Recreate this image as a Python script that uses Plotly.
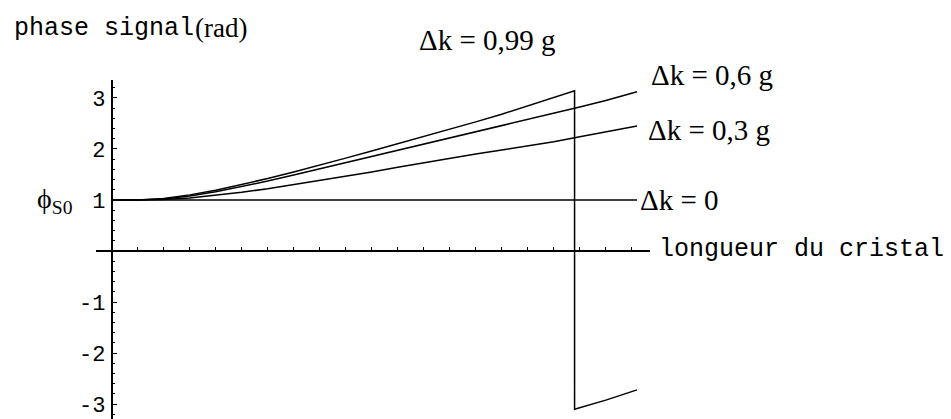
import plotly.graph_objects as go

# crystal length (arbitrary units, one x tick = 0.1)
x_grid = [0, 0.1, 0.2, 0.3, 0.4, 0.5, 0.6, 0.7, 0.8, 0.9, 1.0, 1.1, 1.2,
          1.3, 1.4, 1.5, 1.6, 1.7, 1.8, 1.9, 2.02]

phase_dk03 = [1.0, 1.0, 1.01, 1.04, 1.09, 1.15, 1.22, 1.30, 1.38, 1.46, 1.55,
              1.64, 1.73, 1.82, 1.90, 1.98, 2.06, 2.14, 2.24, 2.33, 2.45]
phase_dk06 = [1.0, 1.0, 1.02, 1.08, 1.16, 1.26, 1.37, 1.49, 1.61, 1.73, 1.85,
              1.97, 2.09, 2.21, 2.33, 2.45, 2.57, 2.69, 2.82, 2.95, 3.12]

# dk = 0.99 g wraps from +pi to -pi at x = 1.78
x_dk099 = [0, 0.1, 0.2, 0.3, 0.4, 0.5, 0.6, 0.7, 0.8, 0.9, 1.0, 1.1, 1.2,
           1.3, 1.4, 1.5, 1.6, 1.7, 1.78, 1.78, 1.9, 2.02]
phase_dk099 = [1.0, 1.0, 1.03, 1.10, 1.19, 1.30, 1.42, 1.55, 1.68, 1.82, 1.96,
               2.10, 2.24, 2.38, 2.53, 2.68, 2.84, 3.00, 3.14, -3.1, -2.92, -2.72]

x_dk0 = [0, 2.02]
phase_dk0 = [1.0, 1.0]

y_ticks = [-3, -2, -1, 1, 2, 3]
y_ticktext = ["-3", "-2", "-1", "1", "2", "3"]
x_ticks = [round(0.1 * i, 1) for i in range(1, 21)]

MONO = "Liberation Mono, Courier New, monospace"
SERIF = "Liberation Serif, Times New Roman, serif"

x_range = [-0.06, 2.07]
y_range = [-3.29, 3.35]

# the page body has an 8px margin, so the figure is shrunk by that much
W, H = 943, 411
ML, MT = 88, 72
PLOT_W, PLOT_H = 554, 339


def paper(px, py):
    # page pixel -> paper coords of the plot area
    return (px - 8 - ML) / PLOT_W, (8 + MT + PLOT_H - py) / PLOT_H


fig = go.Figure()
line = dict(color="black", width=1.5)
for xs, ys in [(x_dk0, phase_dk0), (x_grid, phase_dk03), (x_grid, phase_dk06),
               (x_dk099, phase_dk099)]:
    fig.add_trace(go.Scatter(x=xs, y=ys, mode="lines", line=line,
                             showlegend=False, hoverinfo="skip"))

labels = [
    ("Δk = 0,99 g", 417, 40, SERIF, 29),
    ("Δk = 0,6 g", 649, 75, SERIF, 29),
    ("Δk = 0,3 g", 646, 130, SERIF, 29),
    ("Δk = 0", 638, 200, SERIF, 29),
    ("longueur du cristal", 657, 249, MONO, 25),
    ("phase signal", 12, 28, MONO, 25),
    ("(rad)", 193, 28, SERIF, 27),
    ("ϕ<sub>S0</sub>", 35, 200, SERIF, 28),
]
for text, px, py, fam, size in labels:
    x, y = paper(px, py)
    fig.add_annotation(x=x, y=y, xref="paper", yref="paper", text=text,
                       showarrow=False, xanchor="left", yanchor="middle",
                       font=dict(family=fam, size=size, color="black"))

fig.update_layout(
    width=W, height=H,
    margin=dict(l=ML, r=W - ML - PLOT_W, t=MT, b=H - MT - PLOT_H, autoexpand=False),
    paper_bgcolor="white", plot_bgcolor="white",
    xaxis=dict(range=x_range, anchor="free",
               position=(0 - y_range[0]) / (y_range[1] - y_range[0]),
               showline=True, linecolor="black", linewidth=1.5,
               tickmode="array", tickvals=x_ticks, ticks="inside", ticklen=3,
               tickcolor="black", showticklabels=False, showgrid=False,
               zeroline=False),
    yaxis=dict(range=y_range, anchor="free",
               position=(0 - x_range[0]) / (x_range[1] - x_range[0]),
               showline=True, linecolor="black", linewidth=1.5,
               tickmode="array", tickvals=y_ticks, ticktext=y_ticktext,
               ticks="inside", ticklen=5, tickcolor="black",
               ticklabelstandoff=1,
               minor=dict(tickmode="linear", tick0=0, dtick=0.2, ticks="inside",
                          ticklen=3, tickcolor="black", showgrid=False),
               tickfont=dict(family=MONO, size=22, color="black"),
               showgrid=False, zeroline=False),
)

fig.write_html("out.html")
